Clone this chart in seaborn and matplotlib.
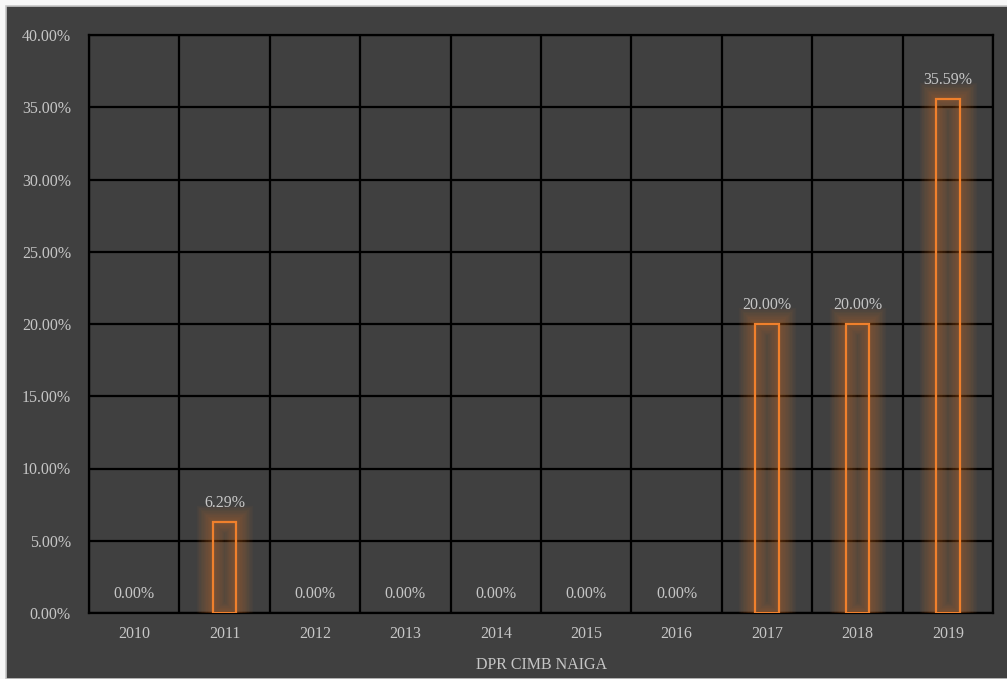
import numpy as np
import pandas as pd
import matplotlib
matplotlib.use("Agg")
import matplotlib.pyplot as plt
import matplotlib.patheffects as pe
from matplotlib.patches import Rectangle
from matplotlib.ticker import PercentFormatter
import seaborn as sns

years = ["2010", "2011", "2012", "2013", "2014", "2015", "2016", "2017", "2018", "2019"]
dpr_values = [0.0, 0.0629, 0.0, 0.0, 0.0, 0.0, 0.0, 0.20, 0.20, 0.3559]
value_labels = ["0.00%", "6.29%", "0.00%", "0.00%", "0.00%", "0.00%", "0.00%", "20.00%", "20.00%", "35.59%"]
y_ticks = [0.0, 0.05, 0.10, 0.15, 0.20, 0.25, 0.30, 0.35, 0.40]
x_title = "DPR CIMB NAIGA"

df = pd.DataFrame({"year": years, "dpr": dpr_values})

BG = "#404040"
TXT = "#c6c6c6"
ORANGE = "#f0802c"
FS = 11.5

sns.set_theme(style="white")
plt.rcParams["font.family"] = ["Liberation Serif", "DejaVu Serif"]

fig = plt.figure(figsize=(10.07, 6.79), dpi=100, facecolor="#f7f7f7")
# dark chart panel with a thin light frame, kept behind the axes
fig.patches.append(Rectangle((6 / 1007, 0), 1.0, 673 / 679, transform=fig.transFigure,
                             facecolor=BG, edgecolor="#c8c8c8", linewidth=1.2, zorder=-10))

ax = fig.add_axes([89 / 1007, 66 / 679, 904 / 1007, 578 / 679])
ax.set_facecolor(BG)

sns.barplot(data=df, x="year", y="dpr", ax=ax, width=0.26, fill=False,
            color=ORANGE, linewidth=1.6, errorbar=None, zorder=3)

# soft orange glow around each non-zero bar outline
glow = [pe.Stroke(linewidth=w, foreground=ORANGE, alpha=0.035) for w in range(24, 2, -2)]
for patch, v in zip(ax.patches, dpr_values):
    patch.set_edgecolor(ORANGE)
    if v == 0:
        patch.set_visible(False)
        continue
    patch.set_path_effects(glow + [pe.Normal()])

for i, (v, lab) in enumerate(zip(dpr_values, value_labels)):
    ax.annotate(lab, (i, v), xytext=(0, 8), textcoords="offset points",
                ha="center", va="bottom", color=TXT, fontsize=FS, zorder=5)

ax.set_ylim(0, 0.40)
ax.set_xlim(-0.5, len(years) - 0.5)
ax.set_yticks(y_ticks)
ax.yaxis.set_major_formatter(PercentFormatter(1.0, decimals=2))
ax.set_xticks(np.arange(-0.5, len(years), 1.0), minor=True)

ax.grid(axis="y", which="major", color="black", linewidth=1.6, zorder=1)
ax.grid(axis="x", which="minor", color="black", linewidth=1.6, zorder=1)
ax.set_axisbelow(True)
for s in ax.spines.values():
    s.set_visible(True)
    s.set_color("black")
    s.set_linewidth(1.6)

ax.tick_params(axis="both", which="both", length=0, colors=TXT, labelsize=FS)
ax.tick_params(axis="y", pad=13)
ax.tick_params(axis="x", pad=9)
ax.set_ylabel("")
ax.set_xlabel(x_title, color=TXT, fontsize=FS, labelpad=11)

fig.savefig("out.png", dpi=100, facecolor=fig.get_facecolor())
